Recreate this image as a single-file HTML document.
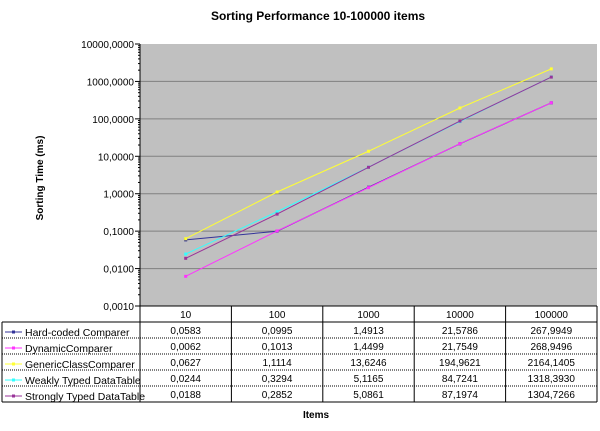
<!DOCTYPE html>
<html><head><meta charset="utf-8"><style>
body{margin:0;background:#fff;font-family:"Liberation Sans",Arial,sans-serif;}
svg text{font-family:"Liberation Sans",Arial,sans-serif;}
</style></head><body>
<svg id="chart" width="600" height="426" xmlns="http://www.w3.org/2000/svg">
<rect width="600" height="426" fill="#fff"/>
<text x="318" y="20" font-size="12" font-weight="bold" text-anchor="middle">Sorting Performance 10-100000 items</text>
<text transform="translate(43,178) rotate(-90)" font-size="10" font-weight="bold" text-anchor="middle">Sorting Time (ms)</text>
<text x="316" y="418" font-size="10" font-weight="bold" text-anchor="middle">Items</text>
<rect x="140" y="44" width="457" height="262" fill="#c0c0c0"/>
<g id="grid"></g><g id="series"></g><g id="table"></g>
</svg>
<script>
const categories = ["10","100","1000","10000","100000"];
const seriesNames = ["Hard-coded Comparer","DynamicComparer","GenericClassComparer","Weakly Typed DataTable","Strongly Typed DataTable"];
const seriesColors = ["#333399","#ff33ff","#ffff33","#33ffff","#993399"];
const hardCoded = [0.0583,0.0995,1.4913,21.5786,267.9949];
const dynamicCmp = [0.0062,0.1013,1.4499,21.7549,268.9496];
const genericCmp = [0.0627,1.1114,13.6246,194.9621,2164.1405];
const weaklyTyped = [0.0244,0.3294,5.1165,84.7241,1318.3930];
const stronglyTyped = [0.0188,0.2852,5.0861,87.1974,1304.7266];
const tableLabels = [
 ["0,0583","0,0995","1,4913","21,5786","267,9949"],
 ["0,0062","0,1013","1,4499","21,7549","268,9496"],
 ["0,0627","1,1114","13,6246","194,9621","2164,1405"],
 ["0,0244","0,3294","5,1165","84,7241","1318,3930"],
 ["0,0188","0,2852","5,0861","87,1974","1304,7266"]];
const yTickValues = [0.001,0.01,0.1,1,10,100,1000,10000];
const yTickLabels = ["0,0010","0,0100","0,1000","1,0000","10,0000","100,0000","1000,0000","10000,0000"];
const allSeries = [hardCoded,dynamicCmp,genericCmp,weaklyTyped,stronglyTyped];

const NS="http://www.w3.org/2000/svg";
const X0=140,X1=597,Y0=306,Y1=44;
const colW=(X1-X0)/categories.length;
function xPos(i){return X0+colW*(i+0.5);}
function yPos(v){const a=Math.log10(0.001),b=Math.log10(10000);return Y0-(Math.log10(v)-a)/(b-a)*(Y0-Y1);}
function mk(tag,attrs,parent){const e=document.createElementNS(NS,tag);for(const k in attrs)e.setAttribute(k,attrs[k]);parent.appendChild(e);return e;}
const grid=document.getElementById('grid'),ser=document.getElementById('series'),tbl=document.getElementById('table');
yTickValues.forEach((v,i)=>{
 const y=yPos(v);
 if(i>0&&i<yTickValues.length-1){const g=mk('line',{x1:X0,x2:X1,y1:y,y2:y,stroke:'#808080','stroke-width':1},grid);
 
 }
 mk('line',{x1:X0-5,x2:X0,y1:y,y2:y,stroke:'#000'},grid);
 if(i<yTickValues.length-1){for(let m=2;m<10;m++){const ym=yPos(v*m);mk('line',{x1:X0-2,x2:X0,y1:ym,y2:ym,stroke:'#000'},grid);}}
 const t=mk('text',{x:X0-6,y:y+4,'font-size':10,'text-anchor':'end'},grid);
 t.textContent=yTickLabels[i];
 
 
});
mk('line',{x1:X0,x2:X0,y1:Y1,y2:Y0,stroke:'#000'},grid);
mk('line',{x1:X0,x2:X1,y1:Y0,y2:Y0,stroke:'#000'},grid);
allSeries.forEach((s,si)=>{
 const pts=s.map((v,i)=>xPos(i)+','+yPos(v)).join(' ');
 const pl=mk('polyline',{points:pts,fill:'none',stroke:seriesColors[si],'stroke-width':1},ser);
 
 
 s.forEach((v,i)=>{const r=mk('rect',{x:xPos(i)-1.5,y:yPos(v)-1.5,width:3,height:3,fill:seriesColors[si]},ser);
 
 });
});
const rowH=16,hdrTop=306,rowTop=322;
mk('line',{x1:X0,x2:X1,y1:hdrTop,y2:hdrTop,stroke:'#000'},tbl);
for(let c=0;c<=categories.length;c++){const x=X0+colW*c;mk('line',{x1:x,x2:x,y1:hdrTop,y2:rowTop+rowH*5,stroke:'#000'},tbl);}
mk('line',{x1:2,x2:2,y1:rowTop,y2:rowTop+rowH*5,stroke:'#000'},tbl);
for(let r=0;r<=5;r++){const y=rowTop+rowH*r;mk('line',{x1:2,x2:X1,y1:y,y2:y,stroke:'#000','stroke-dasharray':(r==0||r==5)?'none':'1,1'},tbl);}
categories.forEach((c,i)=>{const t=mk('text',{x:xPos(i),y:hdrTop+12,'font-size':10,'text-anchor':'middle'},tbl);t.textContent=c;
 
 });
seriesNames.forEach((n,r)=>{
 const y=rowTop+rowH*r+10;
 mk('line',{x1:5,x2:22,y1:y,y2:y,stroke:seriesColors[r]},tbl);
 mk('rect',{x:12,y:y-1.5,width:3,height:3,fill:seriesColors[r]},tbl);
 const t=mk('text',{x:25,y:y+4,'font-size':10.5},tbl);t.textContent=n;
 
 
 tableLabels[r].forEach((v,i)=>{const tt=mk('text',{x:xPos(i),y:y+2,'font-size':10,'text-anchor':'middle'},tbl);tt.textContent=v;
 
 });
});
</script>
</body></html>
